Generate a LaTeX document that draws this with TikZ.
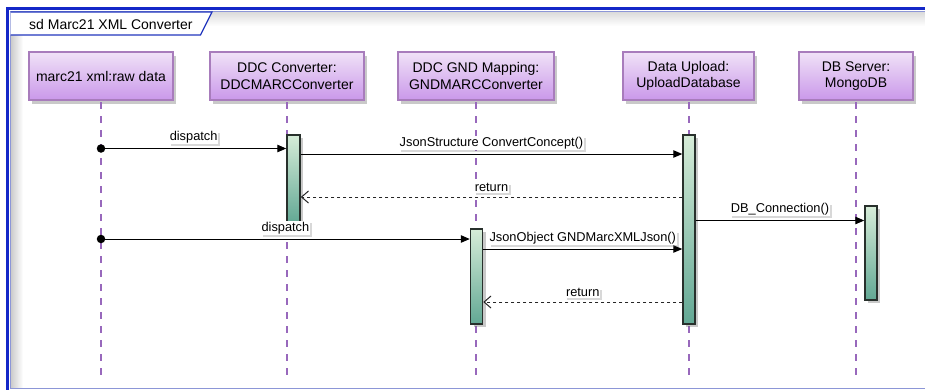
\documentclass[tikz,border=0pt]{standalone}
\usepackage{fontspec}
\setmainfont{Liberation Sans}
\usetikzlibrary{arrows.meta,shadows,calc}

\definecolor{frameblue}{RGB}{20,40,200}
\definecolor{framelight}{RGB}{140,150,215}
\definecolor{tabblue}{RGB}{35,55,190}
\definecolor{ptop}{RGB}{240,226,247}
\definecolor{pbot}{RGB}{202,152,234}
\definecolor{pborder}{RGB}{168,124,188}
\definecolor{lifecol}{RGB}{152,104,188}
\definecolor{atop}{RGB}{214,236,216}
\definecolor{abot}{RGB}{98,168,148}
\definecolor{aborder}{RGB}{40,48,44}

\tikzset{
  participant/.style={rectangle, draw=pborder, line width=2pt,
    top color=ptop, bottom color=pbot, minimum height=48pt,
    align=center, inner sep=2pt, font=\fontsize{14}{16.5}\selectfont,
    drop shadow={shadow xshift=3pt, shadow yshift=-4pt, opacity=.35, fill=black!60}},
  lifeline/.style={draw=lifecol, line width=2pt, dash pattern=on 7pt off 7pt},
  activation/.style={rectangle, draw=aborder, line width=1.5pt,
    top color=atop, bottom color=abot, minimum width=12pt, inner sep=0pt,
    drop shadow={shadow xshift=3pt, shadow yshift=-3pt, opacity=.35, fill=black!60}},
  msg/.style={draw=black, line width=1pt, -{Triangle[length=9pt,width=7.5pt]}},
  ret/.style={draw=black!85, line width=1pt, dash pattern=on 3pt off 3pt,
    -{Straight Barb[length=7pt,width=12pt,line width=1pt]}},
  mlabel/.style={fill=white, inner sep=0.6pt, anchor=south,
    font=\fontsize{12.8}{14}\selectfont,
    drop shadow={shadow xshift=2pt, shadow yshift=-2pt, opacity=.25, fill=black!60}},
  startdot/.style={circle, fill=black, inner sep=0pt, minimum size=8.5pt}
}

\begin{document}
\begin{tikzpicture}[x=1pt,y=1pt]
\useasboundingbox (0,0) rectangle (925,-389);
\clip (0,0) rectangle (925,-389);

% frame
\fill[white] (0,0) rectangle (925,-389);
\shade[left color=black!20, right color=white] (11,-12) rectangle (23,-388);
\shade[top color=black!14, bottom color=white] (11,-12) rectangle (935,-26);
\draw[frameblue, line width=3.3pt] (7.7,-8.4) rectangle (945,-400);
\draw[framelight, line width=1.2pt] (10.6,-11.6) rectangle (935,-388.2);

% title tab
\draw[tabblue, line width=1.2pt, fill=white] (10.6,-12) -- (212,-12) -- (200.5,-35) -- (10.6,-35);
\node[anchor=west, inner sep=0pt, font=\fontsize{14}{16}\selectfont] (title) at (29,-24) {sd Marc21 XML Converter};

% participants
\node[participant, minimum width=144pt] (p1) at (101,-76) {marc21 xml:raw data};
\node[participant, minimum width=154pt] (p2) at (287,-76) {DDC Converter:\\DDCMARCConverter};
\node[participant, minimum width=156pt] (p3) at (476,-76) {DDC GND Mapping:\\GNDMARCConverter};
\node[participant, minimum width=131pt] (p4) at (688.5,-76) {Data Upload:\\UploadDatabase};
\node[participant, minimum width=114pt] (p5) at (856,-76) {DB Server:\\MongoDB};

% lifelines
\foreach \p in {p1,p2,p3,p4,p5}{
  \coordinate (\p end) at ($(\p.south)+(0,-278)$);
  \draw[lifeline] ($(\p.south)+(0,-1)$) -- (\p end);
}

% activation bars
\node[activation, minimum width=13pt, minimum height=88pt] (b2) at (293.5,-179) {};
\node[activation, minimum height=189pt] (b4) at (689,-229.5) {};
\node[activation, minimum height=95pt] (b3) at (476.5,-276.5) {};
\node[activation, minimum height=94pt] (b5) at (871,-253) {};

% start points
\node[startdot] (s1) at (101,-148.5) {};
\node[startdot] (s2) at (101,-239) {};

% messages
\draw[msg] (s1.center) -- (s1.center -| b2.west)
  node[mlabel, midway, yshift=4pt] {dispatch};
\coordinate (m2) at (b2.east |- 0,-154);
\draw[msg] (m2) -- (m2 -| b4.west)
  node[mlabel, midway, yshift=4pt] {JsonStructure ConvertConcept()};
\coordinate (m3) at (b4.west |- 0,-197);
\draw[ret] (m3) -- (m3 -| b2.east)
  node[mlabel, midway, yshift=4pt] {return};
\coordinate (m4) at (b4.east |- 0,-220.5);
\draw[msg] (m4) -- (m4 -| b5.west)
  node[mlabel, midway, yshift=4pt] {DB\_Connection()};
\draw[msg] (s2.center) -- (s2.center -| b3.west)
  node[mlabel, midway, yshift=4pt] {dispatch};
\coordinate (m6) at (b3.east |- 0,-249);
\draw[msg] (m6) -- (m6 -| b4.west)
  node[mlabel, midway, yshift=4pt] {JsonObject GNDMarcXMLJson()};
\coordinate (m7) at (b4.west |- 0,-302);
\draw[ret] (m7) -- (m7 -| b3.east)
  node[mlabel, midway, yshift=4pt] {return};
\end{tikzpicture}
\end{document}
